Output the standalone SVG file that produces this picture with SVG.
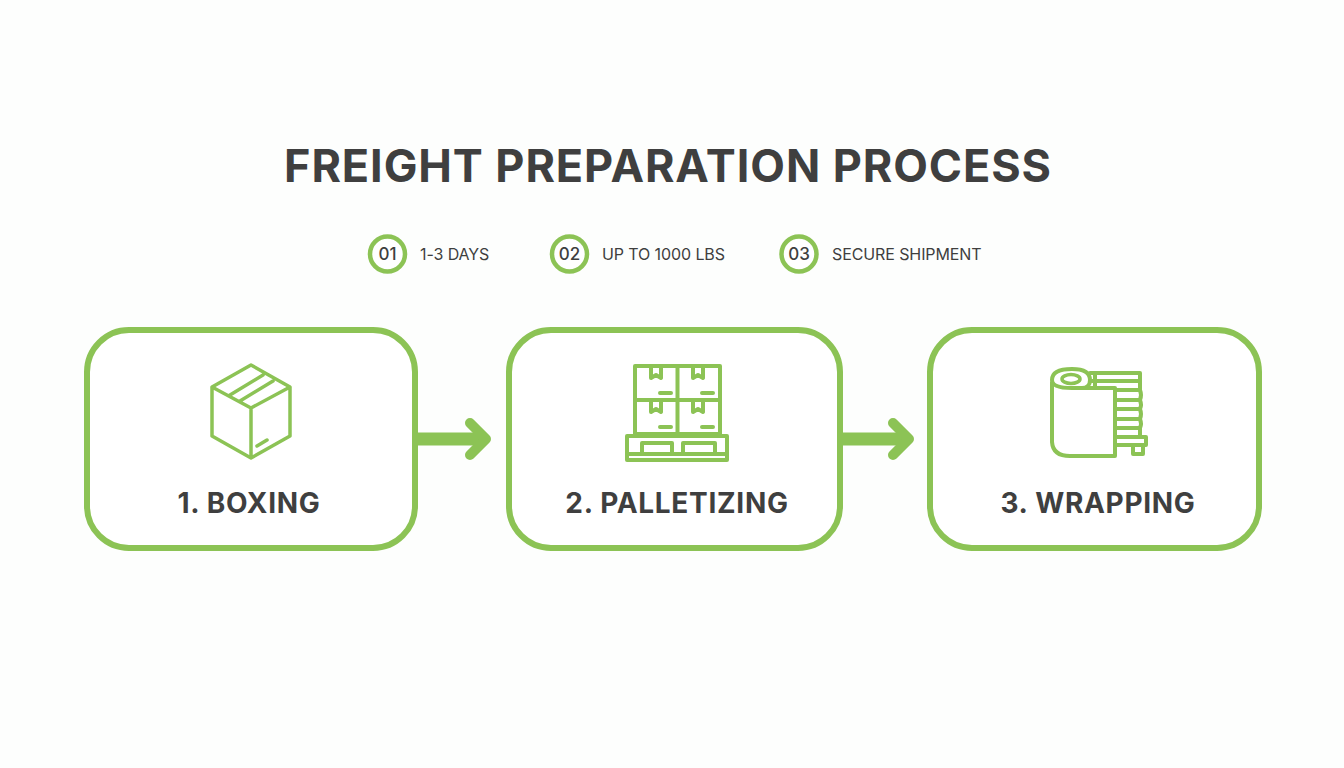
<svg xmlns="http://www.w3.org/2000/svg" width="1344" height="768" viewBox="0 0 1344 768">
<style>
.card{fill:#fff;stroke:#8cc355;stroke-width:6}
.ic{fill:none;stroke:#8cc355;stroke-width:3.500;stroke-linejoin:round;stroke-linecap:round}
.thick{stroke-width:4}
.badge{fill:#fff;stroke:#8cc355;stroke-width:4.500}
text{font-family:"Inter","Liberation Sans",sans-serif;fill:#3f3f3f}
.title{font-size:45px;font-weight:700;text-anchor:middle;letter-spacing:0.9px}
.lab{font-size:28px;font-weight:700;text-anchor:middle;letter-spacing:0.7px}
.num{font-size:17px;font-weight:500;text-anchor:middle}
.meta{font-size:16px;font-weight:400;letter-spacing:-0.1px}
.shaft{stroke:#8cc355;stroke-width:13;fill:none}
.head{stroke:#8cc355;stroke-width:10;fill:none;stroke-linecap:round;stroke-linejoin:round}
</style>
<rect width="1344" height="768" fill="#fdfefd"/>
<text id="title" class="title" x="668" y="182">FREIGHT PREPARATION PROCESS</text>
<g id="meta1"><circle class="badge" cx="387.500" cy="254" r="17.500"/><text class="num" x="387.500" y="260">01</text><text class="meta" x="420" y="259.500">1-3 DAYS</text></g>
<g id="meta2"><circle class="badge" cx="569.500" cy="254" r="17.500"/><text class="num" x="569.500" y="260">02</text><text class="meta" x="602" y="259.500">UP TO 1000 LBS</text></g>
<g id="meta3"><circle class="badge" cx="799" cy="254" r="17.500"/><text class="num" x="799" y="260">03</text><text class="meta" x="832" y="259.500">SECURE SHIPMENT</text></g>
<g id="connectors">
<path class="shaft" d="M418 439H482"/><path class="head" d="M470 423L486 439L470 455"/>
<path class="shaft" d="M842 439H905"/><path class="head" d="M893 423L909 439L893 455"/>
</g>
<g id="node1">
<rect class="card" x="87" y="330" width="328" height="218" rx="42"/>
<path class="ic" d="M251 365L290 387V436L251 458L212 436V387ZM212 387L251 408L290 387M251 408V458M230 395L263 375M240 401L273 381M257 446L267 440"/>
<text class="lab" x="249" y="513">1. BOXING</text>
</g>
<g id="node2">
<rect class="card" x="509" y="330" width="331" height="218" rx="42"/>
<path class="ic thick" d="M635 366H720V434H635ZM635 400H720M677.500 366V434M651 367V378L656 375L661 378V367M693 367V378L698 375L703 378V367M651 401V412L656 409L661 412V401M693 401V412L698 409L703 412V401M660 393H671M702 393H713M660 427H671M702 427H713"/>
<path class="ic thick" d="M627 436H727V460H627ZM627 454H727M642 454V443H672V454M683 454V443H715V454"/>
<text class="lab" x="677" y="513">2. PALLETIZING</text>
</g>
<g id="node3">
<rect class="card" x="930" y="330" width="329" height="218" rx="42"/>
<path class="ic thick" d="M1052 382V442Q1053 456 1070 456H1115V388H1072Q1052 388 1052 380Q1052 369 1072 369Q1090 369 1090 380Q1090 388 1082 388"/>
<ellipse class="ic" cx="1071" cy="379" rx="9" ry="4.500"/>
<path class="ic thick" d="M1090 373H1140V390M1095 373V388M1090 381H1140M1115 390H1140M1140 390Q1142 395 1140 400Q1142 405 1140 409Q1142 414 1140 419Q1142 424 1140 428V437M1115 400H1140M1115 409H1140M1115 419H1140M1115 428H1140M1115 437H1146V445H1115M1133 445V454H1143V445"/>
<text class="lab" x="1098" y="513">3. WRAPPING</text>
</g>
</svg>
